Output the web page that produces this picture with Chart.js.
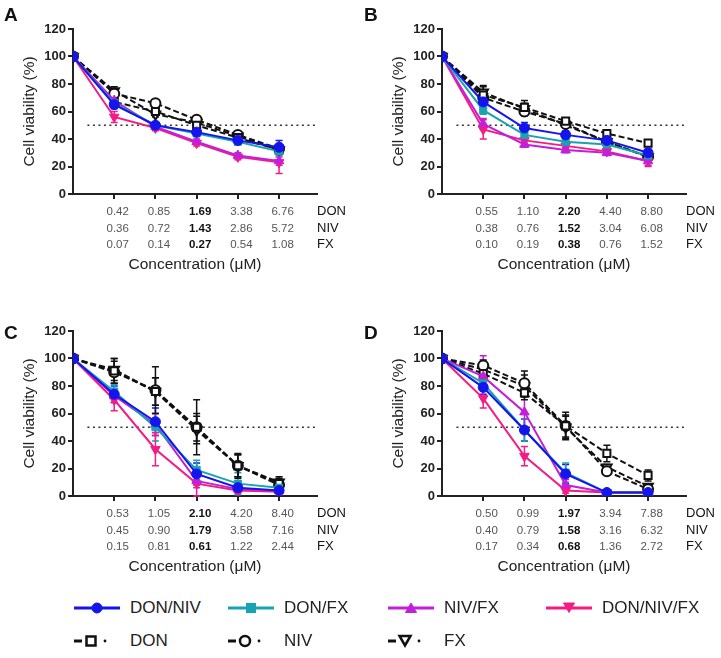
<!DOCTYPE html>
<html lang="en">
<head>
<meta charset="UTF-8">
<title>Cell viability</title>
<script src="https://cdn.jsdelivr.net/npm/chart.js"></script>
<style>
  body { margin: 0; background: #fff; font-family: "Liberation Sans", Arial, sans-serif; }
  #page { position: relative; width: 721px; height: 658px; overflow: hidden; }
  canvas { position: absolute; }
  .letter { position: absolute; font-weight: bold; font-size: 19px; line-height: 19px; color: #111; }
  .rows { position: absolute; font-size: 13px; line-height: 16.5px; color: #111; }
  .leg { position: absolute; display: flex; align-items: center; font-size: 17px; color: #222; height: 20px; }
  .leg svg { margin-right: 10px; }
</style>
</head>
<body>
<div id="page">
  <canvas id="chartA" width="360" height="280" style="left:0;top:0"></canvas>
  <canvas id="chartB" width="360" height="280" style="left:369px;top:0"></canvas>
  <canvas id="chartC" width="360" height="280" style="left:0;top:302px"></canvas>
  <canvas id="chartD" width="360" height="280" style="left:369px;top:302px"></canvas>

  <div class="letter" style="left:4px;top:5px">A</div>
  <div class="letter" style="left:364px;top:5px">B</div>
  <div class="letter" style="left:4px;top:323px">C</div>
  <div class="letter" style="left:364px;top:323px">D</div>

  <div class="rows" style="left:317px;top:203px">DON<br>NIV<br>FX</div>
  <div class="rows" style="left:686px;top:203px">DON<br>NIV<br>FX</div>
  <div class="rows" style="left:317px;top:505px">DON<br>NIV<br>FX</div>
  <div class="rows" style="left:686px;top:505px">DON<br>NIV<br>FX</div>

  <div id="legend"></div>
</div>

<script>
// concentrations under each tick (uM)
const donA = ['0.42', '0.85', '1.69', '3.38', '6.76'];
const nivA = ['0.36', '0.72', '1.43', '2.86', '5.72'];
const fxA  = ['0.07', '0.14', '0.27', '0.54', '1.08'];
const donB = ['0.55', '1.10', '2.20', '4.40', '8.80'];
const nivB = ['0.38', '0.76', '1.52', '3.04', '6.08'];
const fxB  = ['0.10', '0.19', '0.38', '0.76', '1.52'];
const donC = ['0.53', '1.05', '2.10', '4.20', '8.40'];
const nivC = ['0.45', '0.90', '1.79', '3.58', '7.16'];
const fxC  = ['0.15', '0.81', '0.61', '1.22', '2.44'];
const donD = ['0.50', '0.99', '1.97', '3.94', '7.88'];
const nivD = ['0.40', '0.79', '1.58', '3.16', '6.32'];
const fxD  = ['0.17', '0.34', '0.68', '1.36', '2.72'];

const seriesNames = ['DON/NIV', 'DON/FX', 'NIV/FX', 'DON/NIV/FX', 'DON', 'NIV', 'FX'];

// panel A: viability (%) and SD, one array per series
const aDonNiv = [100, 65, 50, 45, 39, 34];    const aDonNivSd = [0, 3, 2, 2, 2, 5];
const aDonFx = [100, 66, 50, 44, 38, 31];     const aDonFxSd = [0, 3, 2, 2, 2, 3];
const aNivFx = [100, 68, 49, 38, 28, 24];     const aNivFxSd = [0, 3, 2, 2, 2, 3];
const aDonNivFx = [100, 56, 48, 37, 27, 23];  const aDonNivFxSd = [0, 4, 2, 2, 2, 8];
const aDon = [100, 67, 60, 50, 41, 32];       const aDonSd = [0, 3, 3, 3, 2, 3];
const aNiv = [100, 73, 66, 54, 43, 33];       const aNivSd = [0, 3, 2, 2, 2, 2];
const aFx = [100, 75, 58, 52, 42, 32];        const aFxSd = [0, 3, 2, 2, 2, 2];

// panel B
const bDonNiv = [100, 67, 48, 43, 39, 30];    const bDonNivSd = [0, 4, 4, 3, 2, 3];
const bDonFx = [100, 61, 43, 38, 36, 28];     const bDonFxSd = [0, 3, 2, 2, 2, 2];
const bNivFx = [100, 51, 36, 32, 30, 24];     const bNivFxSd = [0, 4, 2, 2, 2, 3];
const bDonNivFx = [100, 47, 39, 35, 31, 24];  const bDonNivFxSd = [0, 7, 2, 2, 2, 4];
const bDon = [100, 72, 63, 53, 44, 37];       const bDonSd = [0, 6, 5, 2, 2, 2];
const bNiv = [100, 70, 60, 51, 38, 27];       const bNivSd = [0, 4, 3, 2, 2, 2];
const bFx = [100, 74, 62, 50, 38, 27];        const bFxSd = [0, 5, 4, 2, 2, 2];

// panel C
const cDonNiv = [100, 74, 54, 16, 6, 4];      const cDonNivSd = [0, 6, 10, 8, 3, 2];
const cDonFx = [100, 76, 50, 19, 9, 6];       const cDonFxSd = [0, 5, 10, 7, 8, 2];
const cNivFx = [100, 73, 52, 11, 5, 4];       const cNivFxSd = [0, 5, 8, 5, 2, 2];
const cDonNivFx = [100, 70, 34, 9, 4, 3];     const cDonNivFxSd = [0, 8, 12, 9, 2, 2];
const cDon = [100, 91, 76, 50, 22, 9];        const cDonSd = [0, 9, 10, 10, 9, 4];
const cNiv = [100, 90, 77, 50, 22, 8];        const cNivSd = [0, 8, 17, 20, 8, 3];
const cFx = [100, 92, 76, 48, 22, 10];        const cFxSd = [0, 8, 10, 10, 8, 4];

// panel D
const dDonNiv = [100, 79, 48, 16, 2.5, 2.5];  const dDonNivSd = [0, 5, 8, 7, 1, 1];
const dDonFx = [100, 82, 48, 17, 2.5, 2.5];   const dDonFxSd = [0, 5, 8, 7, 1, 1];
const dNivFx = [100, 87, 61, 8, 2.5, 2.5];    const dNivFxSd = [0, 15, 13, 4, 1, 1];
const dDonNivFx = [100, 71, 29, 4, 2.5, 2.5]; const dDonNivFxSd = [0, 7, 7, 2, 1, 1];
const dDon = [100, 89, 75, 51, 31, 15];       const dDonSd = [0, 4, 5, 8, 6, 4];
const dNiv = [100, 95, 82, 51, 18, 5];        const dNivSd = [0, 4, 9, 10, 2, 2];
const dFx = [100, 92, 80, 50, 21, 7];         const dFxSd = [0, 4, 8, 8, 2, 2];

const tickValues = [1, 2, 3, 4, 5];
const halfLine = 50;

// look of each series
const looks = [
  { color: '#1414ec', point: 'circle', fill: true },
  { color: '#18a3b0', point: 'rect', fill: true },
  { color: '#c41fd8', point: 'triangle', fill: true },
  { color: '#f41c84', point: 'triangle', rot: 180, fill: true },
  { color: '#111111', point: 'rect', dashed: true },
  { color: '#111111', point: 'circle', dashed: true },
  { color: '#111111', point: 'triangle', rot: 180, dashed: true }
];

// draws SD bars from the dataset's sd array
const errorBars = {
  id: 'errorBars',
  beforeDatasetsDraw(chart) {
    const ctx = chart.ctx;
    const yScale = chart.scales.y;
    chart.data.datasets.forEach((ds, di) => {
      if (!ds.sd) return;
      const meta = chart.getDatasetMeta(di);
      ctx.save();
      ctx.strokeStyle = ds.borderColor;
      ctx.lineWidth = 1.5;
      meta.data.forEach((pt, i) => {
        const s = ds.sd[i];
        if (!s) return;
        const v = ds.data[i].y;
        const top = yScale.getPixelForValue(v + s);
        const bot = yScale.getPixelForValue(Math.max(v - s, 0));
        ctx.beginPath();
        ctx.moveTo(pt.x, top); ctx.lineTo(pt.x, bot);
        ctx.moveTo(pt.x - 3.5, top); ctx.lineTo(pt.x + 3.5, top);
        ctx.moveTo(pt.x - 3.5, bot); ctx.lineTo(pt.x + 3.5, bot);
        ctx.stroke();
      });
      ctx.restore();
    });
  }
};

function makePanel(id, values, sds, don, niv, fx) {
  const datasets = values.map((vals, k) => {
    const lk = looks[k];
    return {
      label: seriesNames[k],
      data: vals.map((v, i) => ({ x: i, y: v })),
      sd: sds[k],
      borderColor: lk.color,
      borderWidth: 2,
      borderDash: lk.dashed ? [6, 3] : [],
      pointStyle: lk.point,
      rotation: lk.rot || 0,
      pointRadius: lk.point === 'triangle' ? 5.5 : 5,
      pointBackgroundColor: lk.fill ? lk.color : '#fff',
      pointBorderColor: lk.color,
      pointBorderWidth: lk.dashed ? 2 : 1,
      tension: 0
    };
  });
  datasets.push({
    label: '50%',
    data: [{ x: 0.35, y: halfLine }, { x: 5.92, y: halfLine }],
    borderColor: '#333',
    borderWidth: 1.5,
    borderDash: [2, 3.5],
    pointRadius: 0
  });

  return new Chart(document.getElementById(id).getContext('2d'), {
    type: 'line',
    data: { datasets: datasets },
    plugins: [errorBars],
    options: {
      responsive: false,
      animation: false,
      devicePixelRatio: 1,
      layout: { padding: { left: 0, top: 29, right: 43, bottom: 0 } },
      plugins: { legend: { display: false }, tooltip: { enabled: false } },
      scales: {
        x: {
          type: 'linear',
          min: 0,
          max: 5.92,
          afterBuildTicks: s => { s.ticks = tickValues.map(v => ({ value: v })); },
          afterFit: s => { s.height = 86; },
          border: { color: '#222', width: 2 },
          grid: { drawOnChartArea: false, tickLength: 5, color: '#222', lineWidth: 2 },
          ticks: {
            padding: 5,
            labelOffset: 3.5,
            autoSkip: false,
            maxRotation: 0,
            callback: v => [don[v - 1], niv[v - 1], fx[v - 1]],
            font: c => ({ family: 'Liberation Sans', size: 11.5, weight: c.index === 2 ? 'bold' : 'normal', lineHeight: 16.5 / 11.5 }),
            color: c => c.index === 2 ? '#111' : '#555'
          },
          title: {
            display: true,
            text: 'Concentration (\u03bcM)',
            font: { family: 'Liberation Sans', size: 15.5 },
            color: '#222',
            padding: { top: 0, bottom: 6 }
          }
        },
        y: {
          min: 0,
          max: 120,
          afterFit: s => { s.width = 73; },
          border: { color: '#222', width: 2 },
          grid: { drawOnChartArea: false, tickLength: 5, color: '#222', lineWidth: 2 },
          ticks: {
            stepSize: 20,
            padding: 2,
            font: { family: 'Liberation Sans', size: 13, weight: 'bold' },
            color: '#222'
          },
          title: {
            display: true,
            text: 'Cell viability (%)',
            font: { family: 'Liberation Sans', size: 15.5 },
            color: '#222',
            padding: { top: 20, bottom: 0 }
          }
        }
      }
    }
  });
}

makePanel('chartA',
  [aDonNiv, aDonFx, aNivFx, aDonNivFx, aDon, aNiv, aFx],
  [aDonNivSd, aDonFxSd, aNivFxSd, aDonNivFxSd, aDonSd, aNivSd, aFxSd],
  donA, nivA, fxA);
makePanel('chartB',
  [bDonNiv, bDonFx, bNivFx, bDonNivFx, bDon, bNiv, bFx],
  [bDonNivSd, bDonFxSd, bNivFxSd, bDonNivFxSd, bDonSd, bNivSd, bFxSd],
  donB, nivB, fxB);
makePanel('chartC',
  [cDonNiv, cDonFx, cNivFx, cDonNivFx, cDon, cNiv, cFx],
  [cDonNivSd, cDonFxSd, cNivFxSd, cDonNivFxSd, cDonSd, cNivSd, cFxSd],
  donC, nivC, fxC);
makePanel('chartD',
  [dDonNiv, dDonFx, dNivFx, dDonNivFx, dDon, dNiv, dFx],
  [dDonNivSd, dDonFxSd, dNivFxSd, dDonNivFxSd, dDonSd, dNivSd, dFxSd],
  donD, nivD, fxD);

// shared legend at the bottom
function markerSvg(lk) {
  const c = lk.color;
  const fill = lk.fill ? c : '#fff';
  const sw = lk.fill ? 1 : 2.5;
  const cx = lk.dashed ? 17 : 23;
  let m;
  if (lk.point === 'circle') m = `<circle cx="${cx}" cy="8" r="5" fill="${fill}" stroke="${c}" stroke-width="${sw}"/>`;
  else if (lk.point === 'rect') m = `<rect x="${cx - 4.5}" y="3.5" width="9" height="9" fill="${fill}" stroke="${c}" stroke-width="${sw}"/>`;
  else if (lk.rot) m = `<polygon points="${cx - 5.5},3 ${cx + 5.5},3 ${cx},12.5" fill="${fill}" stroke="${c}" stroke-width="${sw}"/>`;
  else m = `<polygon points="${cx - 5.5},12.5 ${cx + 5.5},12.5 ${cx},3" fill="${fill}" stroke="${c}" stroke-width="${sw}"/>`;
  const line = lk.dashed
    ? `<line x1="0" y1="8" x2="8" y2="8" stroke="${c}" stroke-width="3"/><circle cx="31" cy="8" r="1.4" fill="${c}"/>`
    : `<line x1="0" y1="8" x2="46" y2="8" stroke="${c}" stroke-width="3"/>`;
  return `<svg width="46" height="16" viewBox="0 0 46 16">${line}${m}</svg>`;
}
const legendPos = [[74, 598], [228, 598], [388, 598], [546, 598], [74, 631], [228, 631], [388, 631]];
document.getElementById('legend').innerHTML = seriesNames.map((name, k) =>
  `<div class="leg" style="left:${legendPos[k][0]}px;top:${legendPos[k][1]}px">${markerSvg(looks[k])}<span>${name}</span></div>`
).join('');
</script>
</body>
</html>
